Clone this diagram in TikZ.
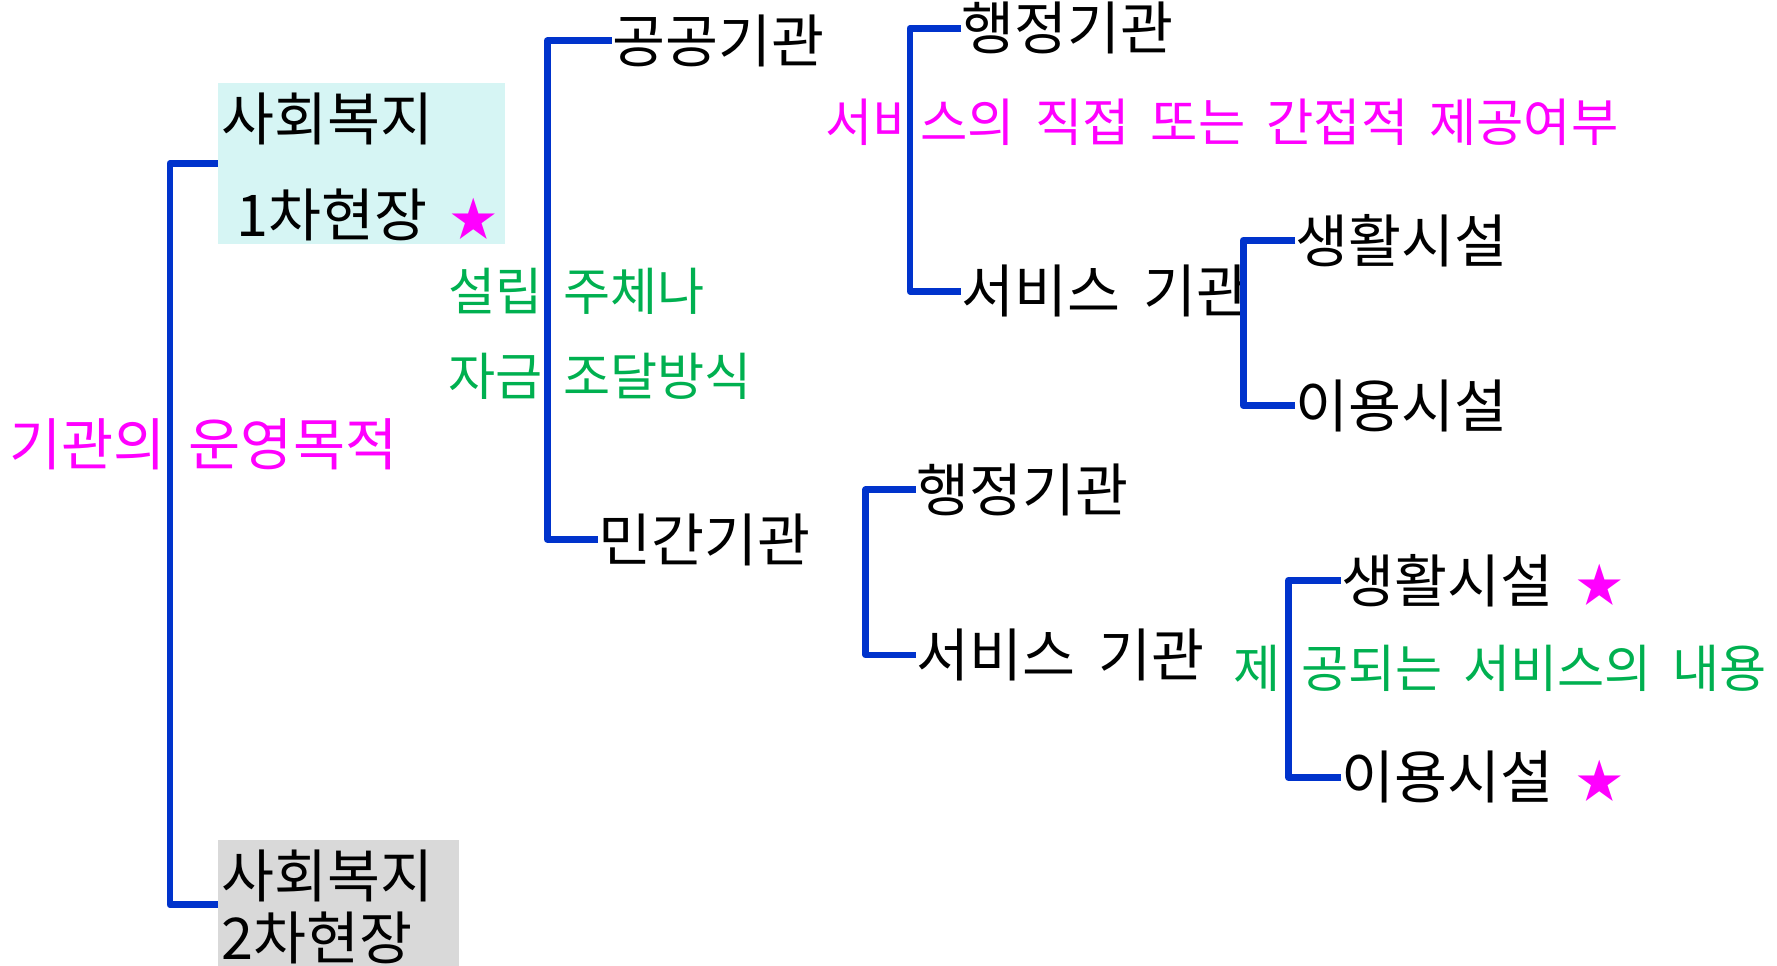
\documentclass[tikz,border=0pt]{standalone}
\usepackage{fontspec}
\setmainfont{Noto Sans CJK KR}[WordSpace=1.8]
\usepackage{xcolor}
\definecolor{lineblue}{RGB}{0,51,204}
\definecolor{notegreen}{RGB}{0,176,80}
\definecolor{notepink}{RGB}{255,0,255}
\definecolor{cyanbg}{RGB}{214,245,244}
\definecolor{graybg}{RGB}{217,217,217}
\newcommand{\pinkstar}{{\fontsize{20.5}{24}\selectfont\color{notepink}★}}
\tikzset{
  brace/.style={draw=lineblue, line width=3pt, line join=round},
  item/.style={inner sep=0pt, anchor=west, font=\fontsize{25.4}{30}\selectfont},
  note/.style={inner sep=0pt, anchor=west, font=\fontsize{22.6}{27}\selectfont},
  sitebox/.style={inner sep=0pt, anchor=north west},
}
\begin{document}
\begin{tikzpicture}[x=0.5pt, y=-0.5pt]
        \useasboundingbox (0,0) rectangle (1568,852);
        \clip (0,0) rectangle (1568,852);
        % field boxes
        \node[sitebox, fill=cyanbg, minimum width=126.5pt, minimum height=71pt] (site1) at (192,73) {};
        \node[sitebox, fill=graybg, minimum width=106.5pt, minimum height=57pt] (site2) at (192,741) {};
        \node[item] (site1a) at (195,105) {사회복지};
        \node[item] (site1b) at (208,190) {1차현장 \pinkstar};
        \node[item] (site2a) at (195,773) {사회복지};
        \node[item] (site2b) at (195,828) {2차현장};
        % agencies
        \node[item] (pub) at (540,36) {공공기관};
        \node[item] (priv) at (528,476) {민간기관};
        \node[item] (adm1) at (848,25) {행정기관};
        \node[item] (svc1) at (848,257) {서비스 기관};
        \node[item] (live1) at (1143,212) {생활시설};
        \node[item] (use1) at (1143,358) {이용시설};
        \node[item] (adm2) at (808,432) {행정기관};
        \node[item] (svc2) at (808,578) {서비스 기관};
        \node[item] (live2) at (1183,512) {생활시설 \pinkstar};
        \node[item] (use2) at (1183,686) {이용시설 \pinkstar};
        % criteria
        \node[note, text=notepink, font=\fontsize{25}{30}\selectfont] (purpose) at (8,392) {기관의 운영목적};
        \node[note, text=notegreen] (found) at (395,257) {설립 주체나};
        \node[note, text=notegreen] (fund) at (395,332) {자금 조달방식};
        \node[note, text=notepink, font=\fontsize{22.7}{27}\selectfont] (direct) at (728,108) {서비스의 직접 또는 간접적 제공여부};
        \node[note, text=notegreen] (content) at (1088,590) {제 공되는 서비스의 내용};
        % brackets
        \draw[brace] (site1.west) -- ++(-42,0) |- (site2.west);
        \draw[brace] (pub.west) -- ++(-57,0) |- (priv.west);
        \draw[brace] (adm1.west) -- ++(-45,0) |- (svc1.west);
        \draw[brace] (live1.west) -- ++(-46,0) |- (use1.west);
        \draw[brace] (adm2.west) -- ++(-44,0) |- (svc2.west);
        \draw[brace] (live2.west) -- ++(-46,0) |- (use2.west);
\end{tikzpicture}
\end{document}
